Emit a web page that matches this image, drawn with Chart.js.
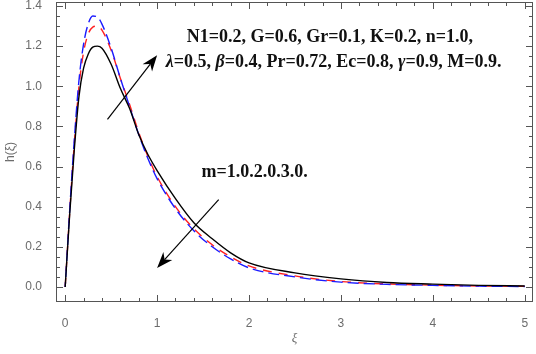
<!DOCTYPE html>
<html>
<head>
<meta charset="utf-8">
<script src="https://cdn.jsdelivr.net/npm/chart.js@4"></script>
<style>
  html, body { margin: 0; padding: 0; background: #fff; }
  #wrap { width: 536px; height: 354px; }
</style>
</head>
<body>
<div id="wrap"><canvas id="hChart" width="536" height="354"></canvas></div>
<script>
// ξ values and h(ξ) for the three curves
const xi = [0, 0.05, 0.1, 0.15, 0.2, 0.25, 0.3, 0.35, 0.4, 0.5, 0.6, 0.7, 0.8, 0.9, 1.0,
  1.2, 1.4, 1.6, 1.8, 2.0, 2.5, 3.0, 3.5, 4.0, 4.5, 5.0];
const hBlack = [0, 0.37, 0.69, 0.95, 1.09, 1.16, 1.195, 1.2, 1.19, 1.11, 0.99, 0.89, 0.76, 0.66, 0.58,
  0.44, 0.32, 0.24, 0.17, 0.12, 0.07, 0.04, 0.022, 0.014, 0.008, 0.005];
const hRed = [0, 0.38, 0.72, 1.0, 1.17, 1.26, 1.295, 1.3, 1.28, 1.18, 1.04, 0.91, 0.77, 0.65, 0.55,
  0.40, 0.29, 0.21, 0.15, 0.105, 0.055, 0.027, 0.015, 0.009, 0.005, 0.003];
const hBlue = [0, 0.39, 0.74, 1.03, 1.21, 1.31, 1.35, 1.345, 1.31, 1.19, 1.04, 0.90, 0.76, 0.64, 0.54,
  0.39, 0.28, 0.20, 0.14, 0.095, 0.05, 0.024, 0.013, 0.008, 0.004, 0.002];

const xTicks = [0, 1, 2, 3, 4, 5];
const yTicks = [0, 0.2, 0.4, 0.6, 0.8, 1.0, 1.2, 1.4];

// annotation text + arrows (in data units)
const noteLine1 = "N1=0.2, G=0.6, Gr=0.1, K=0.2, n=1.0,";
const noteLine2 = [["λ", true], ["=0.5, ", false], ["β", true], ["=0.4, Pr=0.72, Ec=0.8, ", false],
  ["γ", true], ["=0.9, M=0.9.", false]];
const noteM = "m=1.0.2.0.3.0.";
const arrowUp = { from: [0.46, 0.835], to: [1.0, 1.155] };
const arrowDown = { from: [1.67, 0.435], to: [1.0, 0.095] };

function pts(ys) {
  return xi.map((x, i) => ({ x: x, y: ys[i] }));
}

// Mathematica style frame with inward ticks
const framePlugin = {
  id: "frame",
  afterDatasetsDraw(chart) {
    const ctx = chart.ctx;
    const a = chart.chartArea;
    const xs = chart.scales.x, ys = chart.scales.y;
    ctx.save();
    ctx.strokeStyle = "#555";
    ctx.lineWidth = 1;
    ctx.strokeRect(a.left + 0.5, a.top + 0.5, a.right - a.left - 1, a.bottom - a.top - 1);
    ctx.beginPath();
    for (let v = 0; v <= 5.001; v += 0.2) {
      const px = Math.round(xs.getPixelForValue(v)) + 0.5;
      const major = Math.abs(v - Math.round(v)) < 1e-6;
      const len = major ? 7 : 4;
      ctx.moveTo(px, a.bottom); ctx.lineTo(px, a.bottom - len);
      ctx.moveTo(px, a.top); ctx.lineTo(px, a.top + len);
    }
    for (let v = 0; v <= 1.4001; v += 0.05) {
      const py = Math.round(ys.getPixelForValue(v)) + 0.5;
      const major = Math.abs(v * 5 - Math.round(v * 5)) < 1e-6;
      const len = major ? 7 : 4;
      ctx.moveTo(a.left, py); ctx.lineTo(a.left + len, py);
      ctx.moveTo(a.right, py); ctx.lineTo(a.right - len, py);
    }
    ctx.stroke();
    ctx.restore();
  },
  afterDraw(chart) {
    const ctx = chart.ctx;
    const xs = chart.scales.x, ys = chart.scales.y;
    const P = (p) => [xs.getPixelForValue(p[0]), ys.getPixelForValue(p[1])];

    function arrow(ar) {
      const [x0, y0] = P(ar.from), [x1, y1] = P(ar.to);
      const ang = Math.atan2(y1 - y0, x1 - x0);
      const hl = 16, hw = 6;
      ctx.save();
      ctx.strokeStyle = "#000";
      ctx.fillStyle = "#000";
      ctx.lineWidth = 1.2;
      ctx.beginPath();
      ctx.moveTo(x0, y0);
      ctx.lineTo(x1 - Math.cos(ang) * hl * 0.7, y1 - Math.sin(ang) * hl * 0.7);
      ctx.stroke();
      ctx.beginPath();
      ctx.moveTo(x1, y1);
      const bx = x1 - Math.cos(ang) * hl, by = y1 - Math.sin(ang) * hl;
      ctx.lineTo(bx + Math.sin(ang) * hw, by - Math.cos(ang) * hw);
      ctx.lineTo(x1 - Math.cos(ang) * hl * 0.7, y1 - Math.sin(ang) * hl * 0.7);
      ctx.lineTo(bx - Math.sin(ang) * hw, by + Math.cos(ang) * hw);
      ctx.closePath();
      ctx.fill();
      ctx.restore();
    }
    arrow(arrowUp);
    arrow(arrowDown);

    ctx.save();
    ctx.fillStyle = "#111";
    ctx.textBaseline = "middle";
    ctx.textAlign = "center";
    const bold = "bold 18px 'Liberation Serif', 'Times New Roman', serif";
    const boldIt = "italic bold 18px 'Liberation Serif', 'Times New Roman', serif";
    ctx.font = bold;
    let [cx, cy] = P([2.88, 1.245]);
    ctx.fillText(noteLine1, cx, cy);

    // second line: mixed italic greek letters
    [cx, cy] = P([2.92, 1.12]);
    let total = 0;
    noteLine2.forEach(([t, it]) => { ctx.font = it ? boldIt : bold; total += ctx.measureText(t).width; });
    let x = cx - total / 2;
    ctx.textAlign = "left";
    noteLine2.forEach(([t, it]) => {
      ctx.font = it ? boldIt : bold;
      ctx.fillText(t, x, cy);
      x += ctx.measureText(t).width;
    });

    ctx.textAlign = "center";
    ctx.font = bold;
    [cx, cy] = P([2.06, 0.57]);
    ctx.fillText(noteM, cx, cy);
    ctx.restore();
  }
};

const lineBase = {
  pointRadius: 0,
  borderWidth: 1.4,
  cubicInterpolationMode: "monotone",
  fill: false,
};

const hConfig = {
  type: "line",
  data: {
    datasets: [
      Object.assign({ label: "m=1.0", data: pts(hBlack), borderColor: "#000" }, lineBase),
      Object.assign({ label: "m=3.0", data: pts(hBlue), borderColor: "#1a1aff", borderDash: [11, 5], borderDashOffset: 6 }, lineBase),
      Object.assign({ label: "m=2.0", data: pts(hRed), borderColor: "#ff2020", borderDash: [9, 7] }, lineBase),
    ],
  },
  options: {
    responsive: false,
    animation: false,
    parsing: false,
    layout: { autoPadding: false, padding: { top: 2, right: 3, left: 0, bottom: 0 } },
    plugins: { legend: { display: false }, tooltip: { enabled: false } },
    scales: {
      x: {
        type: "linear",
        min: -0.1,
        max: 5.09,
        grid: { display: false },
        border: { display: false },
        afterBuildTicks: (s) => { s.ticks = xTicks.map((v) => ({ value: v })); },
        afterFit: (s) => { s.height = 52; s.paddingLeft = 0; s.paddingRight = 0; },
        ticks: {
          color: "#6b6b6b",
          font: { size: 12, family: "'Liberation Sans', Arial, sans-serif" },
          padding: 6,
          maxRotation: 0,
          callback: (v) => String(v),
        },
        title: {
          display: true,
          text: "ξ",
          color: "#6b6b6b",
          font: { size: 13, style: "italic", family: "'Liberation Serif', serif" },
          padding: { top: 0, bottom: 8 },
        },
      },
      y: {
        type: "linear",
        min: -0.075,
        max: 1.42,
        grid: { display: false },
        border: { display: false },
        afterBuildTicks: (s) => { s.ticks = yTicks.map((v) => ({ value: v })); },
        afterFit: (s) => { s.width = 56; s.paddingTop = 0; s.paddingBottom = 0; },
        ticks: {
          color: "#6b6b6b",
          font: { size: 12, family: "'Liberation Sans', Arial, sans-serif" },
          padding: 6,
          callback: (v) => Number(v).toFixed(1),
        },
        title: {
          display: true,
          text: "h(ξ)",
          color: "#6b6b6b",
          font: { size: 12, family: "'Liberation Sans', Arial, sans-serif" },
          padding: { top: 3, bottom: 0 },
        },
      },
    },
  },
  plugins: [framePlugin],
};

const hCtx = document.getElementById("hChart").getContext("2d");
const hChart = new Chart(hCtx, hConfig);
</script>
</body>
</html>
